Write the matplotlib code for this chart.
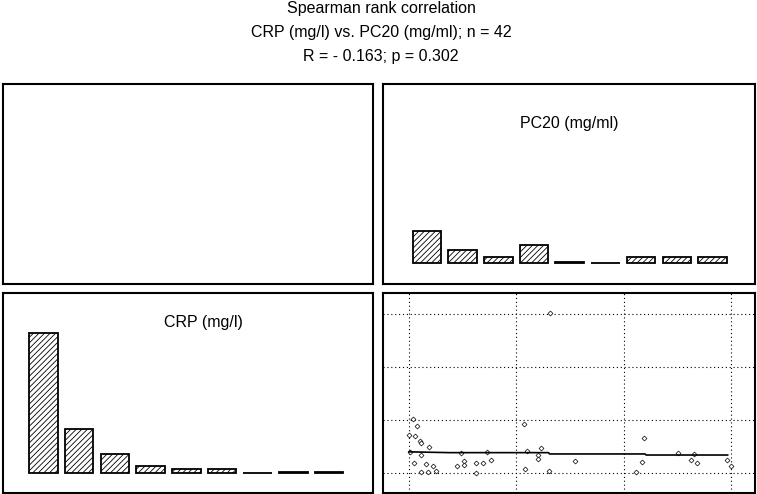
import matplotlib
matplotlib.use('Agg')
import matplotlib.pyplot as plt

plt.rcParams['font.family'] = ['Liberation Sans', 'DejaVu Sans']
plt.rcParams['hatch.linewidth'] = 0.6

# header text
title_lines = ["Spearman rank correlation",
               "CRP (mg/l) vs. PC20 (mg/ml); n = 42",
               "R = - 0.163; p = 0.302"]

# histograms (9 classes each)
bins = [0, 1, 2, 3, 4, 5, 6, 7, 8]
crp_counts = [28, 8.8, 3.8, 1.4, 0.8, 0.8, 0, 0.2, 0.2]
pc20_counts = [16, 6.5, 3, 9, 0.5, 0, 3, 3, 3]

# scatter: x = CRP, y = PC20 (scaled units)
crp_vals = [0.034, 0.072, 0.003, 0.056, 0.103, 0.112, 0.186, 0.109, 0.049, 0.156,
            0.226, 0.112, 0.180, 0.252, 0.445, 0.513, 0.513, 0.482, 0.622, 0.622,
            0.692, 0.761, 0.724, 1.072, 1.103, 1.205, 1.205, 1.233, 1.081, 1.305,
            1.547, 1.314, 2.190, 2.169, 2.113, 2.510, 2.628, 2.681, 2.656, 2.966,
            3.004, 0.009]
pc20_vals = [1.015, 0.894, 0.718, 0.699, 0.605, 0.567, 0.486, 0.340, 0.183, 0.170,
             0.132, 0.019, 0.019, 0.043, 0.138, 0.227, 0.146, 0.372, 0.183, 0.006,
             0.195, 0.251, 0.403, 0.921, 0.422, 0.340, 0.259, 0.467, 0.070, 0.038,
             0.227, 3.025, 0.667, 0.208, 0.019, 0.372, 0.246, 0.183, 0.359, 0.246,
             0.138, 0.388]

# running median line
smooth_x = [0.0, 0.38, 1.30, 1.31, 2.20, 2.21, 2.97]
smooth_y = [0.40, 0.385, 0.385, 0.36, 0.36, 0.34, 0.34]

grid_ticks = [0, 1, 2, 3]

W, H = 757, 494
fig = plt.figure(figsize=(W / 100, H / 100), dpi=100)


def panel(x0, y0, x1, y1):
    # pixel box -> axes
    ax = fig.add_axes([x0 / W, 1 - y1 / H, (x1 - x0) / W, (y1 - y0) / H])
    ax.set_xticks([])
    ax.set_yticks([])
    for s in ax.spines.values():
        s.set_linewidth(1.5)
    return ax


for i, line in enumerate(title_lines):
    fig.text(381 / W, 1 - (8 + 24.5 * i) / H, line, ha='center', va='center', fontsize=11.5)

# top left: empty
panel(3, 84, 373, 284)

# top right: PC20 histogram
ax = panel(383, 84, 755, 284)
ax.bar(bins, pc20_counts, width=0.8, color='white', edgecolor='black', hatch='//////', linewidth=1.3)
ax.set_xlim(-1.23, 9.19)
ax.set_ylim(-10.5, 89.5)
ax.text(0.5, 0.805, "PC20 (mg/ml)", transform=ax.transAxes, ha='center', va='center', fontsize=11.5)

# bottom left: CRP histogram
ax = panel(3, 293, 373, 493)
ax.bar(bins, crp_counts, width=0.8, color='white', edgecolor='black', hatch='//////', linewidth=1.3)
ax.set_xlim(-1.13, 9.23)
ax.set_ylim(-4, 36)
ax.text(0.543, 0.855, "CRP (mg/l)", transform=ax.transAxes, ha='center', va='center', fontsize=11.5)

# bottom right: scatter
ax = panel(383, 293, 755, 493)
ax.set_xlim(-0.242, 3.225)
ax.set_ylim(-0.378, 3.403)
for t in grid_ticks:
    ax.axvline(t, color='black', lw=0.8, ls=(0, (1, 2.5)), zorder=0)
    ax.axhline(t, color='black', lw=0.8, ls=(0, (1, 2.5)), zorder=0)
ax.plot(crp_vals, pc20_vals, ls='none', marker='D', ms=2.5, mfc='white', mec='black', mew=0.5)
ax.plot(smooth_x, smooth_y, color='black', lw=1.2)

fig.savefig('out.png', dpi=100)
